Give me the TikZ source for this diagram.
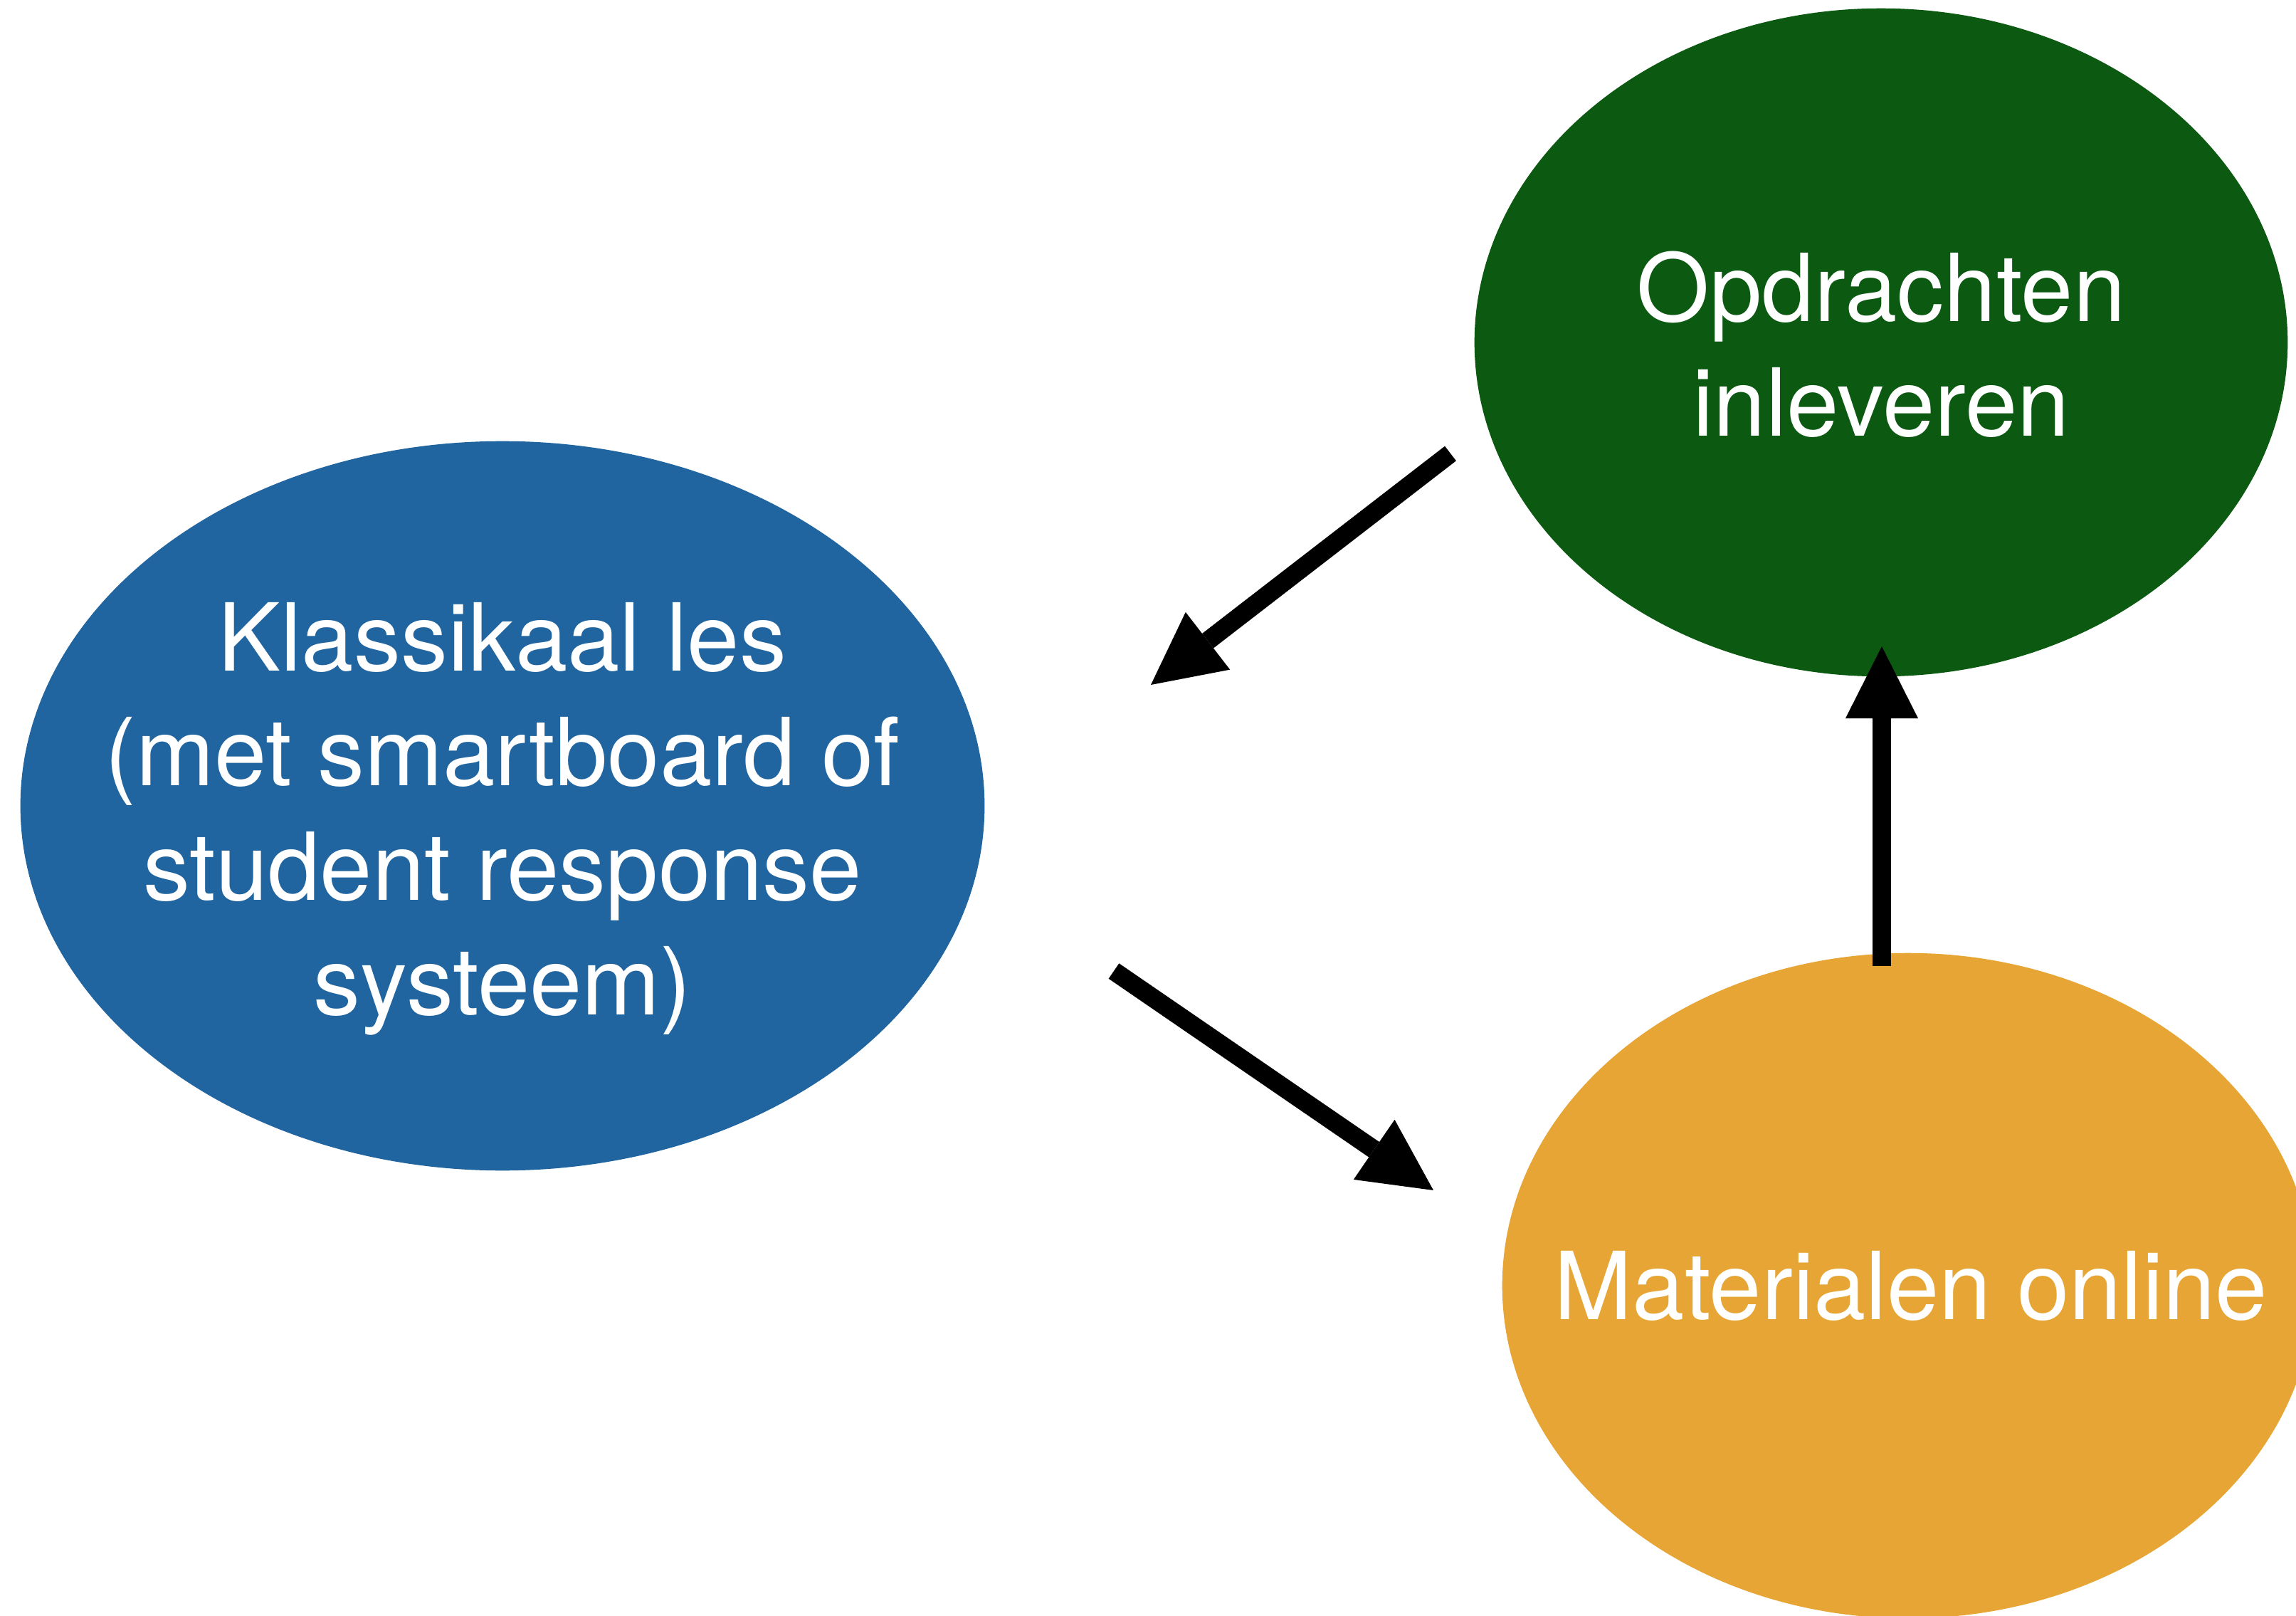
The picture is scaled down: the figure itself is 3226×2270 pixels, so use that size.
\documentclass[tikz,border=0pt]{standalone}
\usepackage{fontspec}
\setmainfont{TeX Gyre Heros}
\usetikzlibrary{shapes.geometric,arrows.meta}
\definecolor{kblue}{RGB}{32,101,160}
\definecolor{kgreen}{RGB}{12,90,18}
\definecolor{korange}{RGB}{230,165,52}
\begin{document}
\begin{tikzpicture}[x=0.01cm,y=-0.01cm,
  bubble/.style={ellipse, inner sep=0pt, outer sep=0pt},
  caption/.style={inner sep=0pt, text=white, align=center, font=\fontsize{37.5}{45.8}\selectfont},
  flow/.style={line width=0.26cm, -{Triangle[length=1.01cm,width=1.02cm,line width=0pt]}}]
\useasboundingbox (0,0) rectangle (3226,2270);
\clip (0,0) rectangle (3226,2270);
\node[bubble, fill=kblue, minimum width=13.54cm, minimum height=10.24cm] (klas) at (706,1132) {};
\node[bubble, fill=kgreen, minimum width=11.42cm, minimum height=9.38cm] (opd) at (2643,481) {};
\node[bubble, fill=korange, minimum width=11.4cm, minimum height=9.34cm] (mat) at (2681,1806) {};
\node[caption] (klast) at (706,1150) {Klassikaal les\\(met smartboard of\\student response\\systeem)};
\node[caption] (opdt) at (2643,484) {Opdrachten\\inleveren};
\node[caption] (matt) at (2685,1806) {Materialen online};
\coordinate (a1s) at (2038,637);
\coordinate (a1e) at (1617,962);
\coordinate (a2s) at (1565,1364);
\coordinate (a2e) at (2014,1672);
\coordinate (a3s) at (2644,1357);
\coordinate (a3e) at (2644,908);
\draw[flow] (a1s) -- (a1e);
\draw[flow] (a2s) -- (a2e);
\draw[flow] (a3s) -- (a3e);
\end{tikzpicture}
\end{document}
